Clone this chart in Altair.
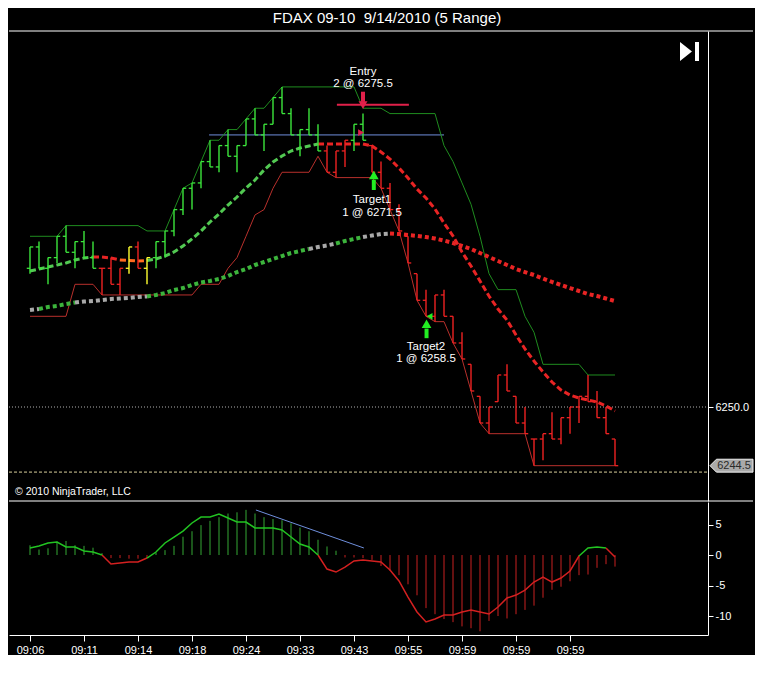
import altair as alt
import pandas as pd

# ---------------- data ----------------
title_text = "FDAX 09-10\u00a0 9/14/2010 (5 Range)"
copyright_text = "\u00a9 2010 NinjaTrader, LLC"
time_labels = ["09:06", "09:11", "09:14", "09:18", "09:24", "09:33", "09:43",
               "09:55", "09:59", "09:59", "09:59"]
time_label_bars = [0, 6, 12, 18, 24, 30, 36, 42, 48, 54, 60]

highs = [6265.0, 6265.5, 6264.0, 6266.0, 6267.0, 6265.5, 6266.5, 6265.5, 6263.0, 6264.0,
         6263.0, 6265.0, 6265.5, 6264.0, 6265.5, 6266.5, 6268.5, 6270.5, 6271.0, 6273.0,
         6275.0, 6274.5, 6276.0, 6274.5, 6277.0, 6278.0, 6276.5, 6279.0, 6280.0, 6278.0,
         6276.0, 6278.0, 6276.5, 6274.5, 6274.0, 6275.0, 6276.5, 6277.5, 6274.5, 6273.0,
         6271.0, 6269.0, 6266.0, 6262.5, 6261.0, 6260.5, 6261.0, 6258.5, 6257.0, 6254.0,
         6251.0, 6250.0, 6253.0, 6254.0, 6251.0, 6250.0, 6247.0, 6247.5, 6249.5, 6249.0,
         6250.0, 6251.0, 6253.0, 6251.5, 6250.0, 6247.0]
lows = [6262.5, 6263.0, 6261.5, 6263.5, 6264.5, 6263.0, 6264.0, 6263.0, 6260.5, 6261.5,
        6260.5, 6262.5, 6263.0, 6261.5, 6263.0, 6264.0, 6266.0, 6268.0, 6268.5, 6270.5,
        6272.5, 6272.0, 6273.5, 6272.0, 6274.5, 6275.5, 6274.0, 6276.5, 6277.5, 6275.5,
        6273.5, 6275.5, 6274.0, 6272.0, 6271.5, 6272.5, 6274.0, 6275.0, 6272.0, 6270.5,
        6268.5, 6266.5, 6263.5, 6260.0, 6258.5, 6258.0, 6258.5, 6256.0, 6254.5, 6251.5,
        6248.5, 6247.5, 6250.5, 6251.5, 6248.5, 6247.5, 6244.5, 6245.0, 6247.0, 6246.5,
        6247.5, 6248.5, 6250.5, 6249.0, 6247.5, 6244.5]
opens = [6263.0, 6265.0, 6263.0, 6264.0, 6266.0, 6264.5, 6265.5, 6264.0, 6263.0, 6263.0,
         6261.5, 6263.0, 6265.0, 6263.0, 6264.0, 6265.5, 6266.5, 6268.5, 6270.5, 6271.0,
         6273.0, 6272.5, 6274.5, 6273.5, 6274.5, 6277.0, 6275.5, 6276.5, 6279.0, 6277.5,
         6275.5, 6276.0, 6275.5, 6274.0, 6272.0, 6274.0, 6275.0, 6276.5, 6274.5, 6272.0,
         6270.5, 6268.5, 6266.0, 6262.5, 6260.0, 6258.5, 6260.5, 6258.5, 6256.0, 6254.0,
         6251.0, 6248.5, 6250.5, 6253.0, 6251.0, 6248.5, 6247.0, 6247.0, 6247.5, 6247.0,
         6249.0, 6250.0, 6251.0, 6250.5, 6249.0, 6247.0]
closes = [6265.0, 6263.0, 6264.0, 6266.0, 6264.5, 6265.5, 6264.0, 6263.0, 6263.0, 6261.5,
          6263.0, 6265.0, 6263.0, 6264.0, 6265.5, 6266.5, 6268.5, 6270.5, 6271.0, 6273.0,
          6272.5, 6274.5, 6273.5, 6274.5, 6277.0, 6275.5, 6276.5, 6279.0, 6277.5, 6275.5,
          6276.0, 6275.5, 6274.0, 6272.0, 6274.0, 6275.0, 6276.5, 6275.0, 6272.0, 6270.5,
          6268.5, 6266.5, 6263.5, 6260.0, 6258.5, 6260.5, 6258.5, 6256.0, 6254.5, 6251.5,
          6248.5, 6250.0, 6253.0, 6251.5, 6248.5, 6247.5, 6247.0, 6247.5, 6247.0, 6249.0,
          6250.0, 6251.0, 6250.5, 6249.0, 6247.5, 6244.5]
bar_color = list("gggggggg" + "rrr" + "y" + "r" + "y" + "g" * 19 + "rrr" + "gg" + "r" * 28)

upper_channel = ([6266.0] * 4 + [6267.0] * 9 + [6266.5] * 3 +
                 [6268.5, 6270.5, 6271.0, 6273.0, 6275.0, 6275.0, 6276.0, 6276.0, 6277.0, 6278.0, 6278.0, 6279.0] +
                 [6280.0] * 9 + [6278.0] * 3 + [6277.5] * 6 +
                 [6274.5, 6273.0, 6271.0, 6269.0, 6266.0, 6262.5] +
                 [6261.0] * 3 + [6258.5, 6257.0] + [6254.0] * 5 + [6253.0] * 4)
lower_channel = ([6258.5] * 5 + [6261.5] * 3 + [6260.5] * 11 + [6261.5] * 3 +
                 [6263.0, 6264.0, 6266.0, 6268.0, 6268.5, 6270.5] + [6272.0] * 4 +
                 [6273.5, 6272.0] + [6271.5] * 5 +
                 [6270.5, 6268.5, 6266.5, 6263.5, 6260.0, 6258.5, 6258.0, 6258.0, 6256.0, 6254.5, 6251.5, 6248.5] +
                 [6247.5] * 5 + [6244.5] * 10)

fast_ma = [6262.75, 6262.93, 6263.12, 6263.31, 6263.50, 6263.78, 6263.96, 6264.06, 6264.06, 6263.96,
           6263.78, 6263.73, 6263.68, 6263.73, 6263.87, 6264.15, 6264.53, 6265.09, 6265.75, 6266.49,
           6267.34, 6268.09, 6268.93, 6269.68, 6270.53, 6271.27, 6272.21, 6272.96, 6273.52, 6273.99,
           6274.27, 6274.46, 6274.65, 6274.65, 6274.65, 6274.65, 6274.65, 6274.65, 6274.46, 6273.90,
           6273.24, 6272.40, 6271.46, 6270.43, 6269.59, 6268.56, 6267.24, 6266.03, 6264.53, 6263.21,
           6261.81, 6260.40, 6259.18, 6258.15, 6256.75, 6255.44, 6254.31, 6253.28, 6252.34, 6251.59,
           6251.12, 6250.84, 6250.66, 6250.47, 6250.09, 6249.63]
fast_ma_color = list("g" * 8 + "r" * 3 + "o" * 3 + "g" * 19 + "r" * 33)

slow_ma = [6259.09, 6259.18, 6259.37, 6259.47, 6259.65, 6259.79, 6259.89, 6259.93, 6260.03, 6260.12,
           6260.17, 6260.22, 6260.31, 6260.36, 6260.50, 6260.68, 6260.97, 6261.15, 6261.43, 6261.67,
           6261.81, 6262.00, 6262.28, 6262.65, 6262.93, 6263.31, 6263.59, 6263.87, 6264.15, 6264.43,
           6264.62, 6264.81, 6265.00, 6265.14, 6265.32, 6265.56, 6265.75, 6265.93, 6266.07, 6266.21,
           6266.26, 6266.21, 6266.12, 6266.03, 6265.93, 6265.79, 6265.60, 6265.37, 6265.09, 6264.81,
           6264.43, 6264.06, 6263.68, 6263.31, 6262.93, 6262.65, 6262.37, 6262.04, 6261.72, 6261.43,
           6261.15, 6260.87, 6260.59, 6260.40, 6260.17, 6259.93]
slow_ma_color = list("ss" + "gggg" + "s" * 8 + "g" * 18 + "sss" + "ggg" + "sss" + "r" * 25)

osc_line = [1.15, 1.48, 1.97, 2.13, 1.31, 1.31, 0.66, 0.49, 0.0, -1.48,
            -1.31, -1.15, -1.15, -0.49, 0.49, 1.97, 2.95, 3.93, 5.25, 6.23,
            6.23, 6.72, 6.07, 5.41, 5.41, 4.43, 4.43, 4.43, 4.10, 2.95,
            1.80, 1.31, 0.0, -2.30, -2.79, -1.97, -0.98, -0.82, -0.98, -1.15,
            -2.46, -4.26, -6.89, -9.34, -10.98, -10.49, -9.84, -9.84, -9.34, -9.02,
            -9.34, -9.67, -8.52, -7.05, -6.56, -5.74, -4.43, -3.61, -4.43, -3.77,
            -2.62, -0.16, 1.15, 1.31, 1.15, -0.33]
osc_line_color = list("g" * 9 + "r" * 5 + "g" * 19 + "r" * 29 + "ggg" + "r")

osc_hist = [1.6, 0.9, 1.1, 2.2, 2.3, 1.6, 1.5, 1.2, 0.3, -0.5,
            -0.5, -0.6, -0.6, -0.5, 0.4, 0.8, 1.5, 3.0, 3.9, 4.9,
            5.6, 6.2, 6.8, 7.0, 7.4, 6.8, 6.2, 5.9, 5.7, 5.2,
            4.5, 3.9, 2.5, 1.4, 0.7, -0.4, -0.4, -0.5, -0.8, -1.8,
            -2.6, -3.3, -4.8, -6.6, -8.7, -9.7, -10.5, -11.0, -11.7, -12.0,
            -12.5, -10.8, -10.0, -10.4, -9.7, -9.0, -8.3, -7.0, -5.7, -5.2,
            -4.3, -3.3, -3.2, -2.1, -1.5, -1.9]
osc_hist_color = list("g" * 9 + "r" * 5 + "g" * 21 + "r" * 31)

entry_price = 6275.5
reference_level = 6250.0
dashed_level = 6243.9
entry_bar = 37
entry_marker_price = 6278.33
entry_marker_bars = [34.1, 42.1]
entry_line_bars = [19.9, 46.0]
target1_bar, target1_price = 38.2, 6271.5
target2_bar, target2_price = 44.06, 6258.5
trend_bars = [25.1, 37.1]
trend_values = [7.38, 1.15]

annotations = [
    ("Entry", 37.0, 6281.40), ("2 @ 6275.5", 37.0, 6280.27),
    ("Target1", 38.0, 6269.40), ("1 @ 6271.5", 38.0, 6268.18),
    ("Target2", 44.0, 6255.62), ("1 @ 6258.5", 44.0, 6254.50),
]

# ---------------- styling ----------------
FONT = "Liberation Sans"
W, H_MAIN, H_LOW = 699, 470, 133
bar_pal = {"g": "#3ce63c", "r": "#ee2222", "y": "#ffff30"}
fast_pal = {"g": "#52c952", "r": "#e82424", "o": "#ff6a20"}
slow_pal = {"g": "#3cb43c", "r": "#e82424", "s": "#a8a8a8"}
osc_pal = {"g": "#22c422", "r": "#d42020"}
hist_pal = {"g": "#35a835", "r": "#c82020"}

xs = alt.Scale(domain=[-21 / 9, 678 / 9], nice=False, zero=False)
ys_main = alt.Scale(domain=[6241.19, 6285.24], nice=False, zero=False)
ys_low = alt.Scale(domain=[-13.11, 8.69], nice=False, zero=False)

main_yaxis = alt.Axis(orient="right", values=[6250], format=".1f", title=None, grid=False,
                      labelColor="white", labelFont=FONT, labelFontSize=11, tickColor="white",
                      tickSize=5, domainColor="white", labelPadding=2)
low_yaxis = alt.Axis(orient="right", values=[-10, -5, 0, 5], labelExpr="'' + datum.value",
                     title=None, grid=False, labelColor="white", labelFont=FONT, labelFontSize=11,
                     tickColor="white", tickSize=5, domainColor="white", labelPadding=2)
label_js = "[" + ",".join("'%s'" % t for t in time_labels) + "]"
low_xaxis = alt.Axis(values=time_label_bars, labelExpr=label_js + "[round(datum.value / 6)]",
                     title=None, grid=False, labelColor="white", labelFont=FONT, labelFontSize=11,
                     tickColor="white", tickSize=6, domainColor="white", labelPadding=3,
                     labelFlush=False)


def XM(f):
    return alt.X(f, type="quantitative", scale=xs, axis=None)


def YM(f):
    return alt.Y(f, type="quantitative", scale=ys_main, axis=main_yaxis)


def XL(f):
    return alt.X(f, type="quantitative", scale=xs, axis=low_xaxis)


def YL(f):
    return alt.Y(f, type="quantitative", scale=ys_low, axis=low_yaxis)


def run_rows(values, codes, pal):
    rows, run, prev = [], -1, None
    for i in range(1, len(values)):
        c = codes[i]
        if c != prev:
            run += 1
            rows.append({"i": i - 1, "v": values[i - 1], "run": run, "hex": pal[c]})
            prev = c
        rows.append({"i": i, "v": values[i], "run": run, "hex": pal[c]})
    return pd.DataFrame(rows)


n = len(highs)
bars = pd.DataFrame({
    "i": list(range(n)), "o": opens, "h": highs, "l": lows, "c": closes,
    "hex": [bar_pal[c] for c in bar_color],
    "upper": upper_channel, "lower": lower_channel,
})
bars["xo"] = bars["i"] - 0.36
bars["xc"] = bars["i"] + 0.36
one = pd.DataFrame({"a": [0]})

# ---------------- main panel ----------------
lvl = pd.DataFrame({"p": [reference_level]})
dlvl = pd.DataFrame({"p": [dashed_level]})
ref_rule = alt.Chart(lvl).mark_rule(color="#b0b0b0", strokeDash=[1, 2], strokeWidth=1).encode(
    y=YM("p"), x=alt.value(0), x2=alt.value(W))
dash_rule = alt.Chart(dlvl).mark_rule(color="#d8cf9c", strokeDash=[3, 2], strokeWidth=1).encode(
    y=YM("p"), x=alt.value(0), x2=alt.value(W))

blue = pd.DataFrame({"x": [entry_line_bars[0]], "x2": [entry_line_bars[1]], "p": [entry_price]})
blue_rule = alt.Chart(blue).mark_rule(color="#6f8fdc", strokeWidth=1).encode(
    x=XM("x"), x2="x2:Q", y=YM("p"))

upper_line = alt.Chart(bars).mark_line(color="#1f8c1f", strokeWidth=1).encode(x=XM("i"), y=YM("upper"))
lower_line = alt.Chart(bars).mark_line(color="#b8302c", strokeWidth=1).encode(x=XM("i"), y=YM("lower"))

slow_df = run_rows(slow_ma, slow_ma_color, slow_pal)
slow_line = alt.Chart(slow_df).mark_line(strokeWidth=4, strokeDash=[4, 3], strokeCap="butt").encode(
    x=XM("i"), y=YM("v"), detail="run:N", color=alt.Color("hex:N", scale=None), order="i:Q")
fast_df = run_rows(fast_ma, fast_ma_color, fast_pal)
fast_line = alt.Chart(fast_df).mark_line(strokeWidth=3, strokeDash=[6, 3], strokeCap="butt").encode(
    x=XM("i"), y=YM("v"), detail="run:N", color=alt.Color("hex:N", scale=None), order="i:Q")

bar_hl = alt.Chart(bars).mark_rule(strokeWidth=1.4).encode(
    x=XM("i"), y=YM("l"), y2="h:Q", color=alt.Color("hex:N", scale=None))
bar_o = alt.Chart(bars).mark_rule(strokeWidth=1.3).encode(
    x=XM("xo"), x2="i:Q", y=YM("o"), color=alt.Color("hex:N", scale=None))
bar_c = alt.Chart(bars).mark_rule(strokeWidth=1.3).encode(
    x=XM("i"), x2="xc:Q", y=YM("c"), color=alt.Color("hex:N", scale=None))

# trade markers
entry_hline = pd.DataFrame({"x": [entry_marker_bars[0]], "x2": [entry_marker_bars[1]], "p": [entry_marker_price]})
entry_hrule = alt.Chart(entry_hline).mark_rule(color="#e0204a", strokeWidth=2).encode(
    x=XM("x"), x2="x2:Q", y=YM("p"))
entry_stem = alt.Chart(pd.DataFrame({"x": [entry_bar], "p1": [6279.55], "p2": [6278.6]})).mark_rule(
    color="#e0204a", strokeWidth=4).encode(x=XM("x"), y=YM("p1"), y2="p2:Q")
entry_head = alt.Chart(pd.DataFrame({"x": [entry_bar], "p": [6278.3]})).mark_point(
    shape="triangle-down", filled=True, color="#e0204a", size=80, opacity=1).encode(x=XM("x"), y=YM("p"))
entry_tri = alt.Chart(pd.DataFrame({"x": [36.78], "p": [6275.72]})).mark_point(
    shape="triangle-right", filled=True, color="#e0204a", size=45, opacity=1).encode(x=XM("x"), y=YM("p"))

tgt = pd.DataFrame({"x": [target1_bar, target2_bar],
                    "head": [6271.74, 6257.8], "s1": [6271.3, 6257.35], "s2": [6270.34, 6256.45]})
tgt_stem = alt.Chart(tgt).mark_rule(color="#22ee22", strokeWidth=4).encode(x=XM("x"), y=YM("s1"), y2="s2:Q")
tgt_head = alt.Chart(tgt).mark_point(shape="triangle-up", filled=True, color="#22ee22", size=95,
                                     opacity=1).encode(x=XM("x"), y=YM("head"))
tgt_tri = alt.Chart(pd.DataFrame({"x": [44.4], "p": [target2_price]})).mark_point(
    shape="triangle-left", filled=True, color="#22ee22", size=45, opacity=1).encode(x=XM("x"), y=YM("p"))

ann = pd.DataFrame(annotations, columns=["t", "x", "p"])
ann_text = alt.Chart(ann).mark_text(color="white", font=FONT, fontSize=11.5, align="center",
                                    baseline="middle").encode(x=XM("x"), y=YM("p"), text="t:N")

# frame, title, icon, copyright, price tag
top_rule = alt.Chart(one).mark_rule(color="white", strokeWidth=1).encode(
    x=alt.value(0), x2=alt.value(744), y=alt.value(0))
bottom_rule = alt.Chart(one).mark_rule(color="white", strokeWidth=1).encode(
    x=alt.value(0), x2=alt.value(744), y=alt.value(H_MAIN))
title_mark = alt.Chart(pd.DataFrame({"t": [title_text]})).mark_text(
    color="white", font=FONT, fontSize=15, align="center", baseline="middle").encode(
    x=alt.value(378), y=alt.value(-13), text="t:N")
copy_mark = alt.Chart(pd.DataFrame({"t": [copyright_text]})).mark_text(
    color="white", font=FONT, fontSize=10.5, align="left", baseline="middle").encode(
    x=alt.value(6), y=alt.value(461), text="t:N")
icon_path = "M -1 -1 L 0.26 0 L -1 1 Z M 0.58 -1 L 1 -1 L 1 1 L 0.58 1 Z"
icon = alt.Chart(one).mark_point(shape=icon_path, filled=True, color="white", size=361, opacity=1).encode(
    x=alt.value(680.5), y=alt.value(20.5))

last = pd.DataFrame({"p": [closes[-1]], "t": ["%.1f" % closes[-1]]})
tag_path = "M -1 0 L -0.7 -0.3 L 1 -0.3 L 1 0.3 L -0.7 0.3 Z"
tag = alt.Chart(last).mark_point(shape=tag_path, filled=True, color="#a9a9a9", stroke="#f0f0f0",
                                 strokeWidth=1, size=1849, opacity=1).encode(
    x=alt.value(722.5), y=YM("p"))
tag_text = alt.Chart(last).mark_text(color="#2a2a2a", font=FONT, fontSize=11, align="center",
                                     baseline="middle").encode(x=alt.value(725), y=YM("p"), text="t:N")

main = alt.layer(
    ref_rule, dash_rule, blue_rule, upper_line, lower_line, slow_line, fast_line,
    bar_hl, bar_o, bar_c, entry_hrule, entry_stem, entry_head, entry_tri,
    tgt_stem, tgt_head, tgt_tri, ann_text, top_rule, bottom_rule, title_mark, copy_mark,
    icon, tag, tag_text,
).properties(width=W, height=H_MAIN)

# ---------------- lower panel ----------------
osc = pd.DataFrame({"i": list(range(n)), "h": osc_hist, "z": [0.0] * n,
                    "hex": [hist_pal[c] for c in osc_hist_color]})
hist = alt.Chart(osc).mark_rule(strokeWidth=1).encode(
    x=XL("i"), y=YL("z"), y2="h:Q", color=alt.Color("hex:N", scale=None))
osc_df = run_rows(osc_line, osc_line_color, osc_pal)
osc_ln = alt.Chart(osc_df).mark_line(strokeWidth=1.5).encode(
    x=XL("i"), y=YL("v"), detail="run:N", color=alt.Color("hex:N", scale=None), order="i:Q")
trend = alt.Chart(pd.DataFrame({"i": trend_bars, "v": trend_values})).mark_line(
    color="#6f8fdc", strokeWidth=1).encode(x=XL("i"), y=YL("v"))

lower = alt.layer(hist, osc_ln, trend).properties(width=W, height=H_LOW)

chart = alt.vconcat(main, lower, spacing=0).properties(
    padding={"top": 3, "left": 0, "right": 0, "bottom": 0}, background="black"
).configure_view(strokeWidth=0)

chart.save("out.html", embed_options={"renderer": "svg", "actions": False})
